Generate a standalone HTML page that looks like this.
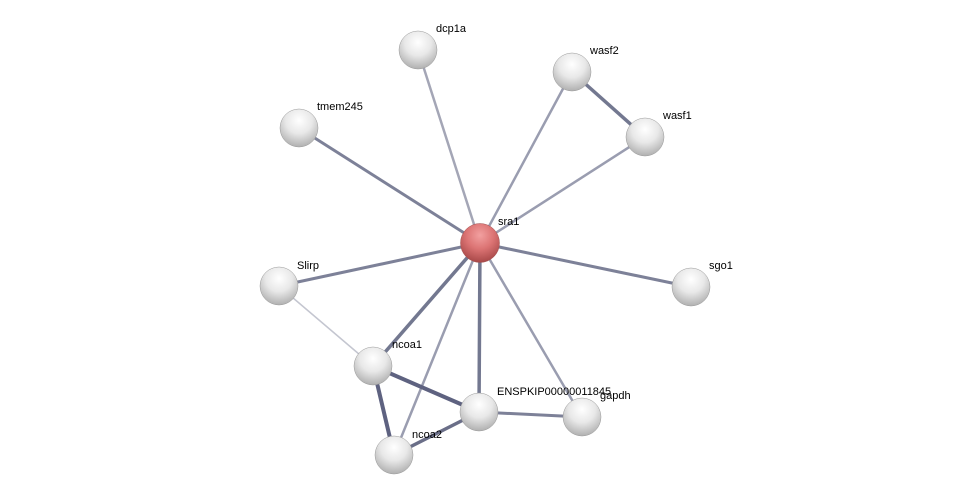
<!DOCTYPE html>
<html><head><meta charset="utf-8"><style>body{margin:0;background:#fff}svg{display:block}text{font-family:"Liberation Sans",sans-serif;font-size:11px;fill:#000}</style></head><body>
<svg width="976" height="501" viewBox="0 0 976 501">
<defs>
<radialGradient id="g" cx="0.5" cy="0.3" r="0.7">
<stop offset="0" stop-color="#ffffff"/><stop offset="0.5" stop-color="#e8e8e8"/><stop offset="1" stop-color="#b0b0b0"/></radialGradient>
<radialGradient id="r" cx="0.5" cy="0.3" r="0.7">
<stop offset="0" stop-color="#f2a0a0"/><stop offset="0.5" stop-color="#dc7474"/><stop offset="1" stop-color="#a84848"/></radialGradient>
</defs>
<g stroke-linecap="round">
<g stroke="#8c90a6" stroke-width="2.5">
<line x1="480" y1="243" x2="418" y2="50" stroke="#a4a6b6"/>
<line x1="480" y1="243" x2="572" y2="72" stroke="#9a9db0"/>
<line x1="480" y1="243" x2="645" y2="137" stroke="#9a9db0"/>
<line x1="480" y1="243" x2="299" y2="128" stroke="#7d8198" stroke-width="3"/>
<line x1="480" y1="243" x2="279" y2="286" stroke="#7d8198" stroke-width="3"/>
<line x1="480" y1="243" x2="691" y2="287" stroke="#7d8198" stroke-width="3"/>
<line x1="480" y1="243" x2="373" y2="366" stroke="#737890" stroke-width="3.5"/>
<line x1="480" y1="243" x2="479" y2="412" stroke="#737890" stroke-width="3.5"/>
<line x1="480" y1="243" x2="582" y2="417" stroke="#9a9db0"/>
<line x1="480" y1="243" x2="394" y2="455" stroke="#9a9db0"/>
<line x1="572" y1="72" x2="645" y2="137" stroke="#737890" stroke-width="3.5"/>
<line x1="279" y1="286" x2="373" y2="366" stroke="#c4c6d0" stroke-width="1.5"/>
<line x1="373" y1="366" x2="479" y2="412" stroke="#5e6280" stroke-width="4"/>
<line x1="373" y1="366" x2="394" y2="455" stroke="#5e6280" stroke-width="4"/>
<line x1="394" y1="455" x2="479" y2="412" stroke="#6a6e88" stroke-width="3.5"/>
<line x1="479" y1="412" x2="582" y2="417" stroke="#7d8198" stroke-width="3"/>
</g></g>
<g stroke="#999" stroke-width="0.5">
<circle cx="418" cy="50" r="19" fill="url(#g)"/>
<circle cx="572" cy="72" r="19" fill="url(#g)"/>
<circle cx="645" cy="137" r="19" fill="url(#g)"/>
<circle cx="299" cy="128" r="19" fill="url(#g)"/>
<circle cx="279" cy="286" r="19" fill="url(#g)"/>
<circle cx="691" cy="287" r="19" fill="url(#g)"/>
<circle cx="373" cy="366" r="19" fill="url(#g)"/>
<circle cx="479" cy="412" r="19" fill="url(#g)"/>
<circle cx="582" cy="417" r="19" fill="url(#g)"/>
<circle cx="394" cy="455" r="19" fill="url(#g)"/>
<circle cx="480" cy="243" r="19.5" fill="url(#r)" stroke="#a05050"/>
</g>
<text x="436" y="32">dcp1a</text>
<text x="590" y="54">wasf2</text>
<text x="663" y="119">wasf1</text>
<text x="317" y="110">tmem245</text>
<text x="498" y="225">sra1</text>
<text x="297" y="269">Slirp</text>
<text x="709" y="269">sgo1</text>
<text x="392" y="348">ncoa1</text>
<text x="497" y="395">ENSPKIP00000011845</text>
<text x="600" y="399">gapdh</text>
<text x="412" y="438">ncoa2</text>
</svg>
</body></html>
